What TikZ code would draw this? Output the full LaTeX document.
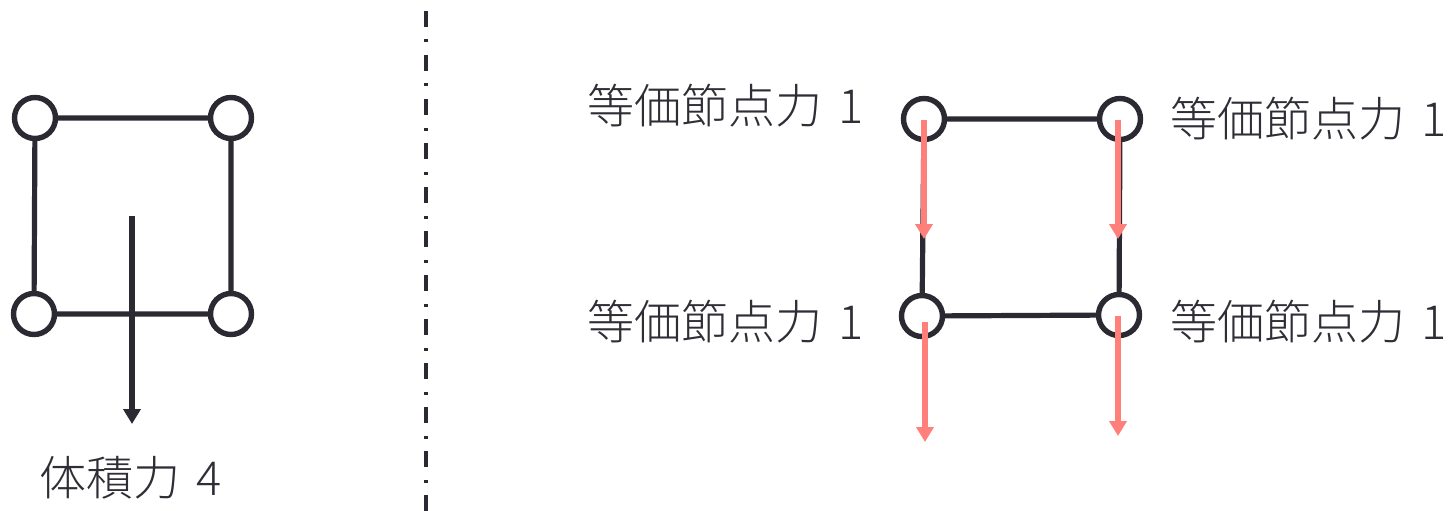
\documentclass[tikz,border=0pt]{standalone}
\usepackage{fontspec}
\IfFontExistsTF{Noto Sans CJK JP Light}
  {\newfontfamily\jpfont{Noto Sans CJK JP Light}}
  {\newfontfamily\jpfont{Noto Sans CJK JP}}
\usetikzlibrary{arrows.meta}
\definecolor{ink}{HTML}{2B2A33}
\definecolor{txt}{HTML}{2F2E36}
\definecolor{force}{HTML}{FF7F7A}
\tikzset{
  x=1pt, y=-1pt,
  nodecirc/.style={circle, draw=ink, line width=5.4pt, fill=white, minimum size=41pt, inner sep=0pt},
  edge/.style={draw=ink, line width=5.2pt},
  bodyarrow/.style={draw=ink, line width=5.2pt, -{Triangle[length=15pt,width=17pt]}},
  forcearrow/.style={draw=force, line width=5.2pt, -{Triangle[length=15pt,width=17pt]}},
  lbl/.style={font=\jpfont\fontsize{47}{50}\selectfont, text=txt, inner sep=0pt},
}
\newcommand{\gapsp}{\hspace{0.34em}}
\begin{document}
\begin{tikzpicture}
\useasboundingbox (0,0) rectangle (1452,511);
% divider
\draw[ink, line width=4.3pt, dash pattern=on 16pt off 12.5pt on 3pt off 12.5pt] (426,11) -- (426,511);
% left element
\coordinate (la) at (35,118);
\coordinate (lb) at (231,118);
\coordinate (lc) at (34,314);
\coordinate (ld) at (231,314);
\draw[edge] (la) -- (lb) -- (ld) -- (lc) -- cycle;
\coordinate (bstart) at (132,216);
\coordinate (bend) at (132,424);
\draw[bodyarrow] (bstart) -- (bend);
\node[nodecirc] (n1) at (la) {};
\node[nodecirc] (n2) at (lb) {};
\node[nodecirc] (n3) at (lc) {};
\node[nodecirc] (n4) at (ld) {};
\node[lbl] (body) at (131,478) {体積力\gapsp 4};
% right element
\coordinate (ra) at (924,119);
\coordinate (rb) at (1120,119);
\coordinate (rc) at (922,316);
\coordinate (rd) at (1119,315);
\draw[edge] (ra) -- (rb) -- (rd) -- (rc) -- cycle;
\node[nodecirc] (m1) at (ra) {};
\node[nodecirc] (m2) at (rb) {};
\node[nodecirc] (m3) at (rc) {};
\node[nodecirc] (m4) at (rd) {};
\coordinate (f1e) at (924,239);
\coordinate (f2e) at (1118,239);
\coordinate (f3e) at (925,442);
\coordinate (f4e) at (1118,436);
\draw[forcearrow] (m1.center) ++(0,1) -- (f1e);
\draw[forcearrow] (m2.center) ++(-2,1) -- (f2e);
\draw[forcearrow] (m3.center) ++(3,6) -- (f3e);
\draw[forcearrow] (m4.center) ++(-1,1) -- (f4e);
\node[lbl] (t1) at (726,106) {等価節点力\gapsp 1};
\node[lbl] (t2) at (1309,119) {等価節点力\gapsp 1};
\node[lbl] (t3) at (726,322) {等価節点力\gapsp 1};
\node[lbl] (t4) at (1309,322) {等価節点力\gapsp 1};
\end{tikzpicture}
\end{document}
